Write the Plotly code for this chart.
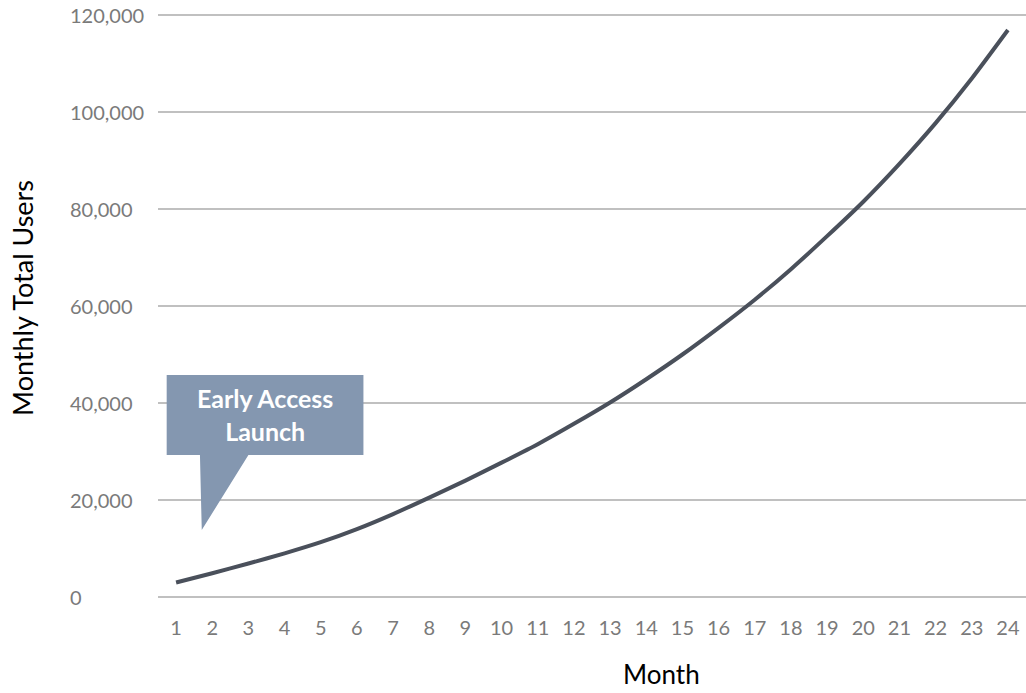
import plotly.graph_objects as go

months = list(range(1, 25))
users = [3000, 4900, 6900, 9000, 11300, 14000, 17100, 20500, 24000, 27700,
         31500, 35700, 40100, 44900, 50000, 55500, 61300, 67600, 74400, 81500,
         89300, 97700, 106900, 116900]
y_ticks = [0, 20000, 40000, 60000, 80000, 100000, 120000]
y_tick_labels = [f"{v:,}" for v in y_ticks]
callout_text = "Early Access<br>Launch"

fig = go.Figure()
fig.add_trace(go.Scatter(
    x=months, y=users, mode="lines",
    line=dict(color="#4a505b", width=4, shape="spline", smoothing=0.6),
    hoverinfo="skip", showlegend=False,
))

# callout shape (box with pointer), in data coordinates
fig.add_shape(
    type="path", xref="x", yref="y",
    path="M 0.74,45770 L 6.18,45770 L 6.18,29280 L 3.0,29280 L 1.71,13810 L 1.66,29280 L 0.74,29280 Z",
    fillcolor="#8497b0", line=dict(width=0), layer="above",
)
fig.add_annotation(
    x=3.458, y=37530, xref="x", yref="y", text=callout_text, showarrow=False,
    font=dict(family="Lato", size=25, color="white", weight="bold"),
    align="center",
)

# left-aligned y tick labels
for v, t in zip(y_ticks, y_tick_labels):
    fig.add_annotation(
        x=-0.1037, y=v, xref="paper", yref="y", text=t, showarrow=False,
        xanchor="left", yanchor="middle",
        font=dict(family="Lato", size=20, color="#7a7a7a"),
    )

fig.add_annotation(
    x=0.5806, y=-0.150, xref="paper", yref="paper", text="Month", showarrow=False,
    xanchor="center", yanchor="bottom", borderpad=0,
    font=dict(family="Lato", size=26, color="black"),
)
fig.add_annotation(
    x=-0.1567, y=0.5135, xref="paper", yref="paper", text="Monthly Total Users",
    showarrow=False, textangle=-90, xanchor="center", yanchor="middle",
    font=dict(family="Lato", size=27, color="black"),
)

fig.update_layout(
    width=1026, height=693,
    margin=dict(l=158, r=0, t=10, b=91),
    plot_bgcolor="white", paper_bgcolor="white",
    xaxis=dict(
        range=[0.5, 24.5], tickmode="array", tickvals=months,
        ticktext=[str(m) for m in months], showgrid=False, zeroline=False,
        showline=False, ticks="", ticklabelstandoff=12,
        tickfont=dict(family="Lato", size=20, color="#7a7a7a"),
    ),
    yaxis=dict(
        range=[-1031, 121031], tickmode="array", tickvals=y_ticks,
        showticklabels=False, showgrid=True, gridcolor="#c0c0c0", gridwidth=2,
        zeroline=False, showline=False, ticks="",
    ),
)

fig.write_html("out.html")
